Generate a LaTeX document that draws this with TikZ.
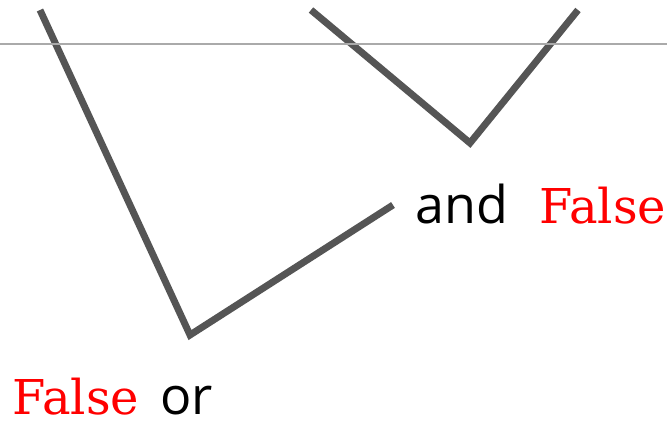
\documentclass[tikz,border=0pt]{standalone}
\usepackage{fontspec}
\newfontfamily\wordfont{Open Sans}
\newfontfamily\valfont{DejaVu Serif}
\definecolor{stroke}{HTML}{555555}
\definecolor{rule}{HTML}{AAAAAA}
\begin{document}
\begin{tikzpicture}[x=0.75pt, y=-0.75pt,
    branch/.style={draw=stroke, line width=5.2pt},
    word/.style={anchor=base west, inner sep=0pt, font=\wordfont\fontsize{39}{44}\selectfont},
    val/.style={anchor=base west, inner sep=0pt, text=red, font=\valfont\fontsize{36}{42}\selectfont}]
    \useasboundingbox (0,0) rectangle (667,421);
    % Ecriture
    \node[val] (falseb) at (12,414) {False};
    \node[word] (orw) at (160,414) {or};
    \node[word] (andw) at (415,223) {and};
    \node[val] (falsea) at (539,223) {False};

    % Branches
    \coordinate (ltop) at (40,10);
    \coordinate (lbot) at (190,335);
    \coordinate (lend) at (393,205);
    \coordinate (rtop) at (311,10);
    \coordinate (rbot) at (470,143);
    \coordinate (rend) at (578,10);
    \draw[branch] (ltop) -- (lbot) -- (lend);
    \draw[branch] (rtop) -- (rbot) -- (rend);

    % Ligne
    \coordinate (hl) at (0,44);
    \coordinate (hr) at (667,44);
    \draw[rule, line width=1.5pt] (hl) -- (hr);
\end{tikzpicture}
\end{document}
